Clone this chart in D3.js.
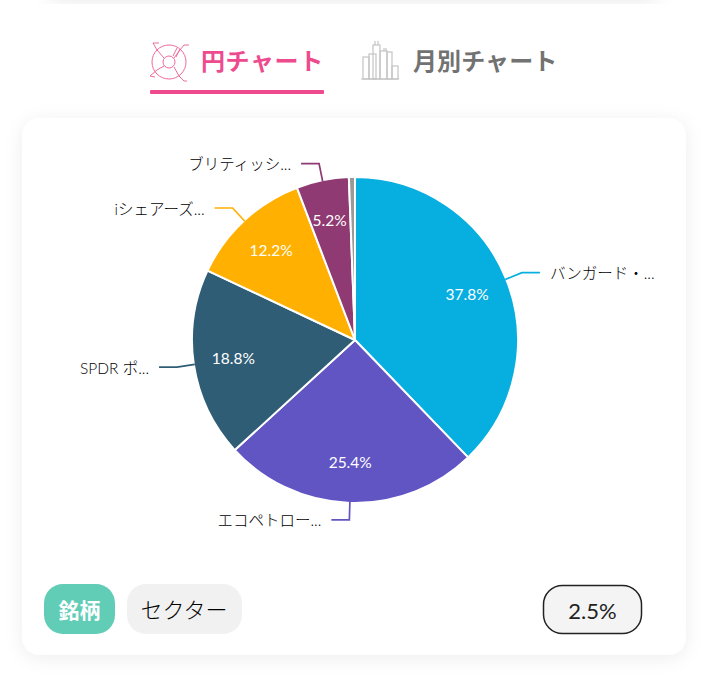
<!DOCTYPE html>
<html><head><meta charset="utf-8">
<script src="https://cdn.jsdelivr.net/npm/d3@7"></script>
<style>html,body{margin:0;padding:0;background:#fff;overflow:hidden}svg{display:block}
text{font-family:Lato,"Noto Sans CJK JP",sans-serif}</style></head>
<body><svg id="c" width="709" height="675"></svg>
<script>
const names=["バンガード・...","エコペトロー...","SPDR ポ...","iシェアーズ...","ブリティッシ...","その他"];
const values=[37.8,25.4,18.8,12.2,5.2,0.6];
const colors=["#07aee0","#6155c4","#2f5d75","#ffb000","#8f3a73","#9a9a98"];
const tabLabels=["円チャート","月別チャート"];
const filterLabels=["銘柄","セクター"];
const thresholdLabel="2.5%";

const svg=d3.select("#c");
const defs=svg.append("defs");
const f=defs.append("filter").attr("id","sh").attr("x","-10%").attr("y","-10%").attr("width","120%").attr("height","120%");
f.append("feDropShadow").attr("dx",0).attr("dy",3).attr("stdDeviation",9).attr("flood-color","#000").attr("flood-opacity",0.07);

// top strip shadow and card
svg.append("rect").attr("x",48).attr("y",-40).attr("width",612).attr("height",40).attr("rx",14).attr("fill","#fff").attr("filter","url(#sh)");
svg.append("rect").attr("x",22).attr("y",118).attr("width",664).attr("height",537).attr("rx",18).attr("fill","#fff").attr("filter","url(#sh)");

// tabs
const pink="#ee4a8e", grey="#727272";
svg.append("text").attr("x",201).attr("y",70).attr("font-size",24).attr("font-weight",700).attr("fill",pink).attr("letter-spacing",0.6).text(tabLabels[0]);
svg.append("text").attr("x",413).attr("y",70).attr("font-size",24).attr("font-weight",700).attr("fill",grey).attr("letter-spacing",0.1).text(tabLabels[1]);
svg.append("rect").attr("x",150).attr("y",90).attr("width",174).attr("height",4).attr("rx",1).attr("fill",pink);

// pie icon
const ic=svg.append("g").attr("fill","none").attr("stroke","#ee6a9c").attr("stroke-width",1);
ic.append("circle").attr("cx",169).attr("cy",62).attr("r",17);
ic.append("circle").attr("cx",169).attr("cy",62).attr("r",6);
[[[164,58],[157,50],[153,43],[159,43]],[[174,58],[180,50],[184,45],[189,45]],[[164,66],[157,70],[150,76],[155,77]],[[174,67],[179,76],[184,81],[187,81]],[[173,56],[177,48]],[[176,57],[180,49]]].forEach(p=>
  ic.append("path").attr("d",d3.line()(p)));
// building icon
const bi=svg.append("g").attr("fill","none").attr("stroke","#c4c4c4").attr("stroke-width",1.2);
[[363,57,6,22],[369,54,7,25],[373,45,7,34],[380,51,7,28],[387,52,5,27],[392,66,6,13]].forEach(r=>bi.append("rect").attr("x",r[0]).attr("y",r[1]).attr("width",r[2]).attr("height",r[3]));
bi.append("path").attr("d","M375 45V41M378 45V41M384 51V48M386 51V48M361 79H399");

// pie
const cx=355,cy=340,R=163;
const g=svg.append("g").attr("transform",`translate(${cx},${cy})`);
const pie=d3.pie().sort(null).value(d=>d)(values);
const arc=d3.arc().innerRadius(0).outerRadius(R);
g.selectAll("path.s").data(pie).join("path").attr("class","s").attr("d",arc)
  .attr("fill",(d,i)=>colors[i]).attr("stroke","#fff").attr("stroke-width",2).attr("stroke-linejoin","round");
const pt=(a,r)=>[r*Math.sin(a),-r*Math.cos(a)];
pie.forEach((d,i)=>{
  const a=(d.startAngle+d.endAngle)/2;
  if(values[i]>=2.5){
    const [lx,ly]=pt(a,122);
    g.append("text").attr("x",lx-1).attr("y",ly).attr("text-anchor","middle").attr("dy","0.36em")
      .attr("font-size",15.5).attr("fill","#fff").text(values[i].toFixed(1)+"%");
    const s=pt(a,R-1), e=pt(a,R+17), side=s[0]>=0?1:-1;
    const h=[e[0]+side*18,e[1]];
    g.append("path").attr("d",d3.line()([s,e,h])).attr("fill","none").attr("stroke",colors[i]).attr("stroke-width",1.7);
    g.append("text").attr("x",h[0]+side*10).attr("y",h[1]+1).attr("dy","0.36em").attr("text-anchor",side>0?"start":"end")
      .attr("font-size",15.5).attr("font-weight",300).attr("fill","#000").text(names[i]);
  }
});

// filter chips
svg.append("rect").attr("x",44).attr("y",584).attr("width",71).attr("height",50).attr("rx",19).attr("fill","#62cdb7");
svg.append("text").attr("x",79.5).attr("y",618).attr("text-anchor","middle").attr("font-size",21).attr("font-weight",700).attr("fill","#fff").text(filterLabels[0]);
svg.append("rect").attr("x",127).attr("y",584).attr("width",115).attr("height",50).attr("rx",19).attr("fill","#f1f1f1");
svg.append("text").attr("x",184).attr("y",618).attr("text-anchor","middle").attr("font-size",22).attr("font-weight",300).attr("fill","#000").text(filterLabels[1]);
svg.append("rect").attr("x",543.5).attr("y",585.5).attr("width",98).attr("height",48).attr("rx",19).attr("fill","#f4f4f4").attr("stroke","#222").attr("stroke-width",1.5);
svg.append("text").attr("x",592.5).attr("y",619).attr("text-anchor","middle").attr("font-size",22).attr("font-weight",400).attr("fill","#222").text(thresholdLabel);
</script></body></html>
